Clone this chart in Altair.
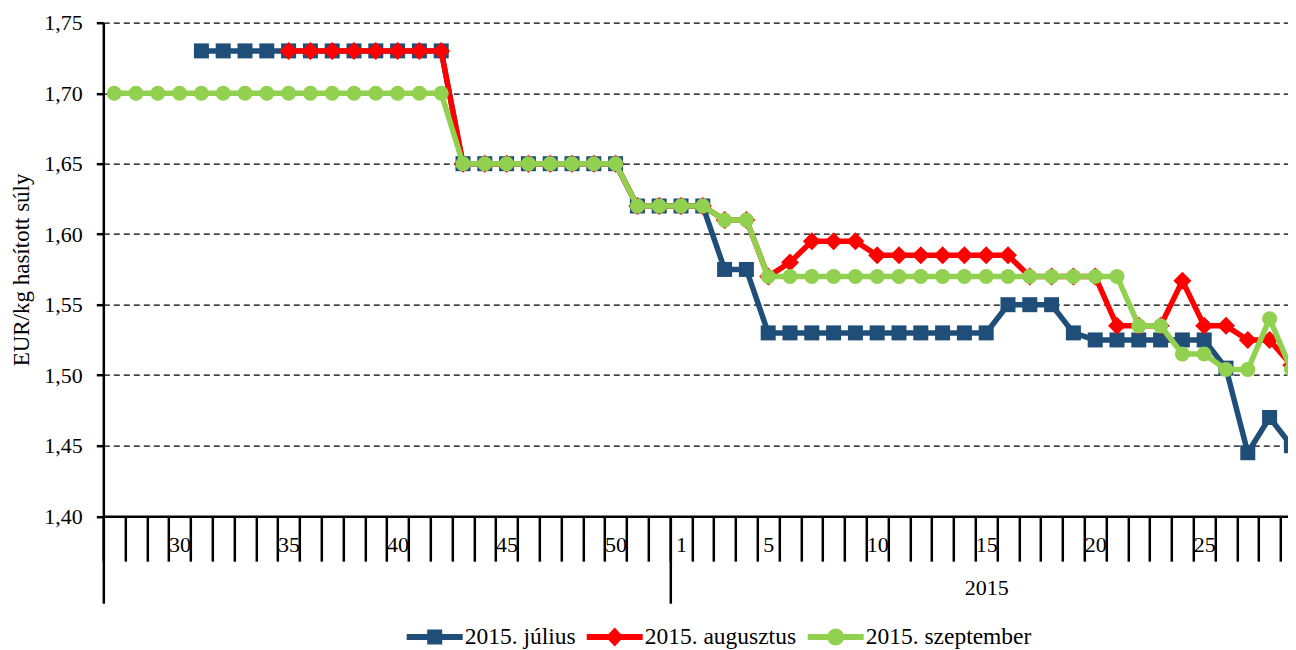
import json
import altair as alt
import pandas as pd

# ---- data ----
weeks = [27, 28, 29, 30, 31, 32, 33, 34, 35, 36, 37, 38, 39, 40, 41, 42, 43, 44, 45, 46, 47, 48, 49, 50, 51, 52,
         1, 2, 3, 4, 5, 6, 7, 8, 9, 10, 11, 12, 13, 14, 15, 16, 17, 18, 19, 20, 21, 22, 23, 24, 25, 26, 27, 28, 29]
label_weeks_2014 = [30, 35, 40, 45, 50]
label_weeks_2015 = [1, 5, 10, 15, 20, 25]
year_label = "2015"

series_names = ["2015. július", "2015. augusztus", "2015. szeptember"]
series_colors = ["#1F4E79", "#FF0000", "#92D050"]
series_shapes = ["square", "diamond", "circle"]

N = None
july = [N, N, N, N,
        1.73, 1.73, 1.73, 1.73, 1.73, 1.73, 1.73, 1.73, 1.73, 1.73, 1.73, 1.73,
        1.65, 1.65, 1.65, 1.65, 1.65, 1.65, 1.65, 1.65,
        1.62, 1.62, 1.62, 1.62,
        1.575, 1.575,
        1.53, 1.53, 1.53, 1.53, 1.53, 1.53, 1.53, 1.53, 1.53, 1.53, 1.53,
        1.55, 1.55, 1.55,
        1.53,
        1.525, 1.525, 1.525, 1.525, 1.525, 1.525,
        1.505, 1.445, 1.47, 1.45]
august = [N, N, N, N, N, N, N, N,
          1.73, 1.73, 1.73, 1.73, 1.73, 1.73, 1.73, 1.73,
          1.65, 1.65, 1.65, 1.65, 1.65, 1.65, 1.65, 1.65,
          1.62, 1.62, 1.62, 1.62,
          1.61, 1.61,
          1.57, 1.58, 1.595, 1.595, 1.595,
          1.585, 1.585, 1.585, 1.585, 1.585, 1.585, 1.585,
          1.57, 1.57, 1.57, 1.57,
          1.535, 1.535, 1.535, 1.567, 1.535, 1.535,
          1.525, 1.525, 1.507]
september = [1.70, 1.70, 1.70, 1.70, 1.70, 1.70, 1.70, 1.70, 1.70, 1.70, 1.70, 1.70, 1.70, 1.70, 1.70, 1.70,
             1.65, 1.65, 1.65, 1.65, 1.65, 1.65, 1.65, 1.65,
             1.62, 1.62, 1.62, 1.62,
             1.61, 1.61,
             1.57, 1.57, 1.57, 1.57, 1.57, 1.57, 1.57, 1.57, 1.57, 1.57, 1.57, 1.57, 1.57, 1.57, 1.57, 1.57, 1.57,
             1.535, 1.535, 1.515, 1.515, 1.504, 1.504, 1.54, 1.504]
series_values = [july, august, september]

y_ticks = [1.40, 1.45, 1.50, 1.55, 1.60, 1.65, 1.70, 1.75]

rows = []
for name, vals in zip(series_names, series_values):
    for i, v in enumerate(vals):
        if v is not None:
            rows.append({"series": name, "pos": i + 0.5, "value": v})
df = pd.DataFrame(rows)

# ---- layout ----
FONT = "Liberation Serif"
PAD_LEFT = 95.3
PLOT_W = 1280 - PAD_LEFT
STEP = 21.8
x_max = PLOT_W / STEP
year_start = weeks.index(1)
label_pos = [weeks.index(w) + 0.5 for w in label_weeks_2014] + \
            [weeks.index(w, year_start) + 0.5 for w in label_weeks_2015]
year_label_pos = (year_start + len(weeks)) / 2.0

y_axis = alt.Axis(values=y_ticks, labelExpr="replace(format(datum.value, '.2f'), '.', ',')",
                  title="EUR/kg hasított súly", titleFont=FONT, titleFontSize=23, titleFontWeight="normal",
                  titleColor="black", titlePadding=10,
                  labelFont=FONT, labelFontSize=22, labelColor="black", labelPadding=14,
                  tickSize=7, tickColor="black", tickWidth=2.5,
                  domainColor="black", domainWidth=2.5,
                  grid=True, gridColor="black", gridDash=[6, 4], gridWidth=1.2)
y_enc = alt.Y("value:Q", scale=alt.Scale(domain=[1.40, 1.75], nice=False, zero=False), axis=y_axis)

ax_ticks = alt.Axis(orient="bottom", values=list(range(0, len(weeks))), labels=False, title=None,
                    tickSize=45, tickColor="black", tickWidth=2.5,
                    domain=True, domainColor="black", domainWidth=2.5, grid=False)
ax_labels = alt.Axis(orient="bottom", values=label_pos, title=None, ticks=False, tickSize=0, domain=False,
                     grid=False, labelExpr=json.dumps(weeks) + "[floor(datum.value)]",
                     labelFont=FONT, labelFontSize=22, labelColor="black", labelPadding=18,
                     labelFlush=False, labelOverlap=False)
ax_year_ticks = alt.Axis(orient="bottom", values=[0, year_start], labels=False, title=None,
                         tickSize=87, tickColor="black", tickWidth=2.5, domain=False, grid=False)
ax_year_label = alt.Axis(orient="bottom", values=[year_label_pos], title=None, ticks=False, tickSize=0,
                         domain=False, grid=False, labelExpr="'" + year_label + "'",
                         labelFont=FONT, labelFontSize=22, labelColor="black", labelPadding=61,
                         labelFlush=False, labelOverlap=False)
axes = [ax_ticks, ax_labels, ax_year_ticks, ax_year_label, None, None]


def xenc(axis):
    return alt.X("pos:Q", scale=alt.Scale(domain=[0, x_max], nice=False, zero=False), axis=axis)


base = alt.Chart(df)
point_sizes = {"square": 225, "diamond": 324, "circle": 225}
layers = []
for k, (name, col, shp) in enumerate(zip(series_names, series_colors, series_shapes)):
    sub = base.transform_filter(alt.datum.series == name)
    layers.append(sub.mark_line(color=col, strokeWidth=5.5).encode(x=xenc(axes[2 * k]), y=y_enc))
    layers.append(sub.mark_point(shape=shp, filled=True, size=point_sizes[shp], color=col, opacity=1,
                                 strokeWidth=0).encode(x=xenc(axes[2 * k + 1]), y=y_enc))

# legend symbols: line segment with a marker in the middle
line_path = "M-1,-0.107 L1,-0.107 L1,0.107 L-1,0.107 Z"
marker_paths = {
    "square": "M-0.268,-0.268 L0.268,-0.268 L0.268,0.268 L-0.268,0.268 Z",
    "diamond": "M-0.32,0 L0,-0.34 L0.32,0 L0,0.34 Z",
    "circle": "M-0.3,0 A0.3,0.3 0 1,1 0.3,0 A0.3,0.3 0 1,1 -0.3,0 Z",
}
legend_paths = [line_path + " " + marker_paths[s] for s in series_shapes]
legend = alt.Legend(orient="none", legendX=303.4, legendY=586, direction="horizontal", title=None,
                    labelFont=FONT, labelFontSize=23.5, labelColor="black", labelLimit=0,
                    symbolSize=3136, symbolStrokeWidth=0, labelOffset=2, columnPadding=11, padding=0)
legend_layer = base.transform_filter("false").mark_point(filled=True, size=3136, opacity=1, strokeWidth=0).encode(
    x=xenc(None), y=y_enc,
    color=alt.Color("series:N", scale=alt.Scale(domain=series_names, range=series_colors), legend=legend),
    shape=alt.Shape("series:N", scale=alt.Scale(domain=series_names, range=legend_paths), legend=legend),
)
layers.append(legend_layer)

chart = alt.layer(*layers).resolve_axis(x="independent").properties(
    width=PLOT_W, height=493.5,
    padding={"left": PAD_LEFT, "top": 14.7, "right": 0, "bottom": 142},
    autosize=alt.AutoSizeParams(type="none"),
).configure(font=FONT).configure_view(stroke=None)

chart.save("out.html", embed_options={"renderer": "svg", "actions": False})
